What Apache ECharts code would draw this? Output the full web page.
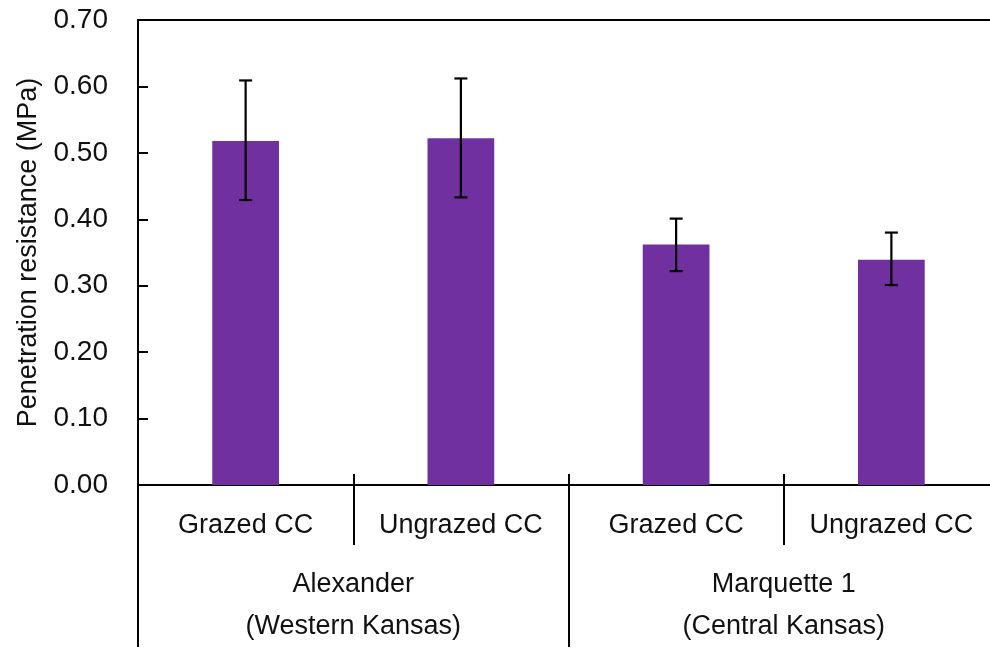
<!DOCTYPE html>
<html>
<head>
<meta charset="utf-8">
<script src="https://cdn.jsdelivr.net/npm/echarts@6/dist/echarts.min.js"></script>
<style>html,body{margin:0;padding:0;background:#fff;overflow:hidden;}#c{width:1002px;height:648px;}</style>
</head>
<body>
<div id="c"></div>
<script>
const categories = ["Grazed CC", "Ungrazed CC", "Grazed CC", "Ungrazed CC"];
const groups = ["Alexander\n(Western Kansas)", "Marquette 1\n(Central Kansas)"];
const meanValues = [0.518, 0.522, 0.362, 0.339];
const errLow = [0.429, 0.433, 0.322, 0.301];
const errHigh = [0.609, 0.612, 0.401, 0.380];
const yTicks = [0.00, 0.10, 0.20, 0.30, 0.40, 0.50, 0.60, 0.70];

const FONT = "Liberation Sans";
const TXT = "#111";

const chart = echarts.init(document.getElementById('c'));
chart.setOption({
  animation: false,
  backgroundColor: '#fff',
  textStyle: { fontFamily: FONT },
  grid: { left: 138, top: 20, right: 3, bottom: 163, show: true, borderColor: '#000', borderWidth: 2, backgroundColor: 'transparent' },
  xAxis: [
    {
      type: 'category', data: categories, position: 'bottom',
      axisLine: { show: true, lineStyle: { color: '#000', width: 2 } },
      axisTick: { show: true, interval: 0, length: 60, lineStyle: { color: '#000', width: 2 } },
      axisLabel: { interval: 0, fontSize: 27, color: TXT, margin: 27, fontFamily: FONT }
    },
    {
      type: 'category', data: categories, position: 'bottom',
      axisLine: { show: false },
      axisTick: { show: true, inside: true, interval: 0, length: 11, lineStyle: { color: '#000', width: 2 } },
      axisLabel: { show: false }
    },
    {
      type: 'category', data: groups, position: 'bottom',
      axisLine: { show: false },
      axisTick: { show: true, interval: 0, length: 162, lineStyle: { color: '#000', width: 2 } },
      axisLabel: { interval: 0, fontSize: 27, color: TXT, margin: 79, lineHeight: 42, fontFamily: FONT }
    }
  ],
  yAxis: {
    type: 'value', min: 0, max: 0.7, interval: 0.1,
    name: 'Penetration resistance (MPa)', nameLocation: 'middle', nameGap: 96, nameRotate: 90,
    nameTextStyle: { fontSize: 27, color: TXT, fontFamily: FONT },
    axisLine: { show: true, lineStyle: { color: '#000', width: 2 } },
    axisTick: { show: true, inside: true, length: 10, lineStyle: { color: '#000', width: 2 } },
    splitLine: { show: false },
    axisLabel: { fontSize: 28, color: TXT, margin: 30, fontFamily: FONT,
      formatter: v => (yTicks.find(t => Math.abs(t - v) < 1e-9) ?? v).toFixed(2) }
  },
  series: [
    {
      type: 'bar', xAxisIndex: 0, data: meanValues, barWidth: '31%',
      itemStyle: { color: '#7030A0' }
    },
    {
      type: 'custom', xAxisIndex: 0, z: 10,
      data: categories.map((c, i) => [i, errLow[i], errHigh[i]]),
      renderItem: function (params, api) {
        const lo = api.coord([api.value(0), api.value(1)]);
        const hi = api.coord([api.value(0), api.value(2)]);
        const hw = 6.5;
        const st = { stroke: '#000', lineWidth: 2.2 };
        return {
          type: 'group',
          children: [
            { type: 'line', shape: { x1: lo[0], y1: lo[1], x2: hi[0], y2: hi[1] }, style: st },
            { type: 'line', shape: { x1: lo[0] - hw, y1: lo[1], x2: lo[0] + hw, y2: lo[1] }, style: st },
            { type: 'line', shape: { x1: hi[0] - hw, y1: hi[1], x2: hi[0] + hw, y2: hi[1] }, style: st }
          ]
        };
      }
    }
  ]
});
</script>
</body>
</html>
